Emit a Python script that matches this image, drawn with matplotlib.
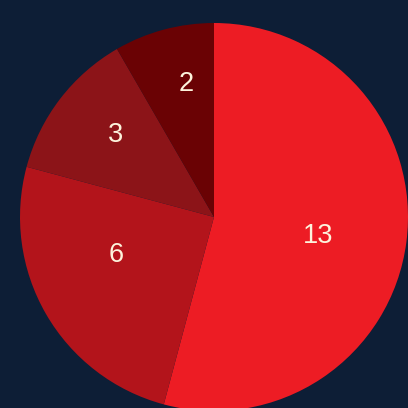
import numpy as np
import matplotlib
matplotlib.use("Agg")
import matplotlib.pyplot as plt

values = [13, 6, 3, 2]
labels = ["13", "6", "3", "2"]
colors = ["#ed1c24", "#b3141b", "#8c1418", "#6a0204"]

# label placement style (radius fraction, angular shift in degrees)
label_r = [0.546, 0.54, 0.66, 0.70]
label_shift = [-3.0, -9.0, -2.5, -3.0]

bg = "#0d1e36"
fig = plt.figure(figsize=(4.08, 4.08), dpi=100, facecolor=bg)
ax = fig.add_axes([0, 0, 1, 1])
ax.set_facecolor(bg)

wedges, _ = ax.pie(values, colors=colors, startangle=90, counterclock=False,
                   radius=1.0, wedgeprops=dict(linewidth=0))

for w, lab, r, s in zip(wedges, labels, label_r, label_shift):
    mid = np.deg2rad((w.theta1 + w.theta2) / 2 + s)
    ax.text(r * np.cos(mid), r * np.sin(mid), lab, ha="center", va="center",
            color="#fdf3dc", fontsize=19.5, family="Liberation Sans")

ax.set_xlim(-214 / 194, 194 / 194)
ax.set_ylim(-191 / 194, 217 / 194)
ax.set_aspect("auto")
ax.axis("off")

fig.savefig("out.png", dpi=100, facecolor=bg)
